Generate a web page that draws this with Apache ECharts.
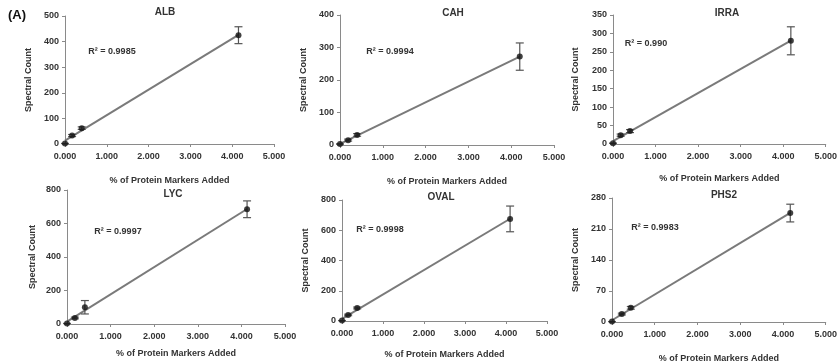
<!DOCTYPE html>
<html><head><meta charset="utf-8">
<script src="https://cdn.jsdelivr.net/npm/echarts@6/dist/echarts.min.js"></script>
<style>html,body{margin:0;padding:0;background:#fff}#c{width:840px;height:364px}</style>
</head><body><div id="c"></div>
<script>
// ---- data ----
const proteins = ['ALB', 'CAH', 'IRRA', 'LYC', 'OVAL', 'PHS2'];
const r2Values = ['0.9985', '0.9994', '0.990', '0.9997', '0.9998', '0.9983'];
const xTicks = [0, 1, 2, 3, 4, 5];
const yMax = [500, 400, 350, 800, 800, 280];
const yStep = [100, 100, 50, 200, 200, 70];

const albX = [0, 0.17, 0.40, 4.15];
const albY = [2, 33, 62, 425];
const albErr = [0, 4, 5, 33];

const cahX = [0, 0.19, 0.40, 4.20];
const cahY = [3, 15, 31, 272];
const cahErr = [0, 3, 4, 42];

const irraX = [0, 0.18, 0.40, 4.18];
const irraY = [2, 24, 35, 280];
const irraErr = [0, 3, 4, 38];

const lycX = [0, 0.18, 0.41, 4.13];
const lycY = [3, 36, 100, 685];
const lycErr = [0, 5, 40, 50];

const ovalX = [0, 0.15, 0.37, 4.10];
const ovalY = [3, 40, 86, 675];
const ovalErr = [0, 5, 6, 85];

const phs2X = [0, 0.23, 0.44, 4.17];
const phs2Y = [1, 18, 32, 246];
const phs2Err = [0, 2, 3, 20];

const panelsX = [albX, cahX, irraX, lycX, ovalX, phs2X];
const panelsY = [albY, cahY, irraY, lycY, ovalY, phs2Y];
const panelsErr = [albErr, cahErr, irraErr, lycErr, ovalErr, phs2Err];

// ---- layout ----
const grids = [
  {left: 65, top: 16, width: 209, height: 128},
  {left: 340, top: 15, width: 214, height: 130},
  {left: 613, top: 15, width: 214, height: 129},
  {left: 67, top: 190, width: 218, height: 134},
  {left: 342, top: 200, width: 205, height: 121},
  {left: 612, top: 198, width: 216, height: 124}
];
const titlePos = [[165, 12], [453, 13], [727, 13], [173, 194], [441, 197], [724, 195]];
const r2Pos = [[112, 52], [390, 52], [646, 44], [118, 232], [380, 230], [655, 228]];
const xNameGap = [32, 32, 30, 25, 29, 32];
const yNameGap = [32, 32, 33, 30, 32, 32];
const FONT = 'Liberation Sans, Arial, sans-serif';
const TXT = '#333';

function fit(xs, ys) {
  const n = xs.length;
  let sx = 0, sy = 0, sxx = 0, sxy = 0;
  for (let i = 0; i < n; i++) { sx += xs[i]; sy += ys[i]; sxx += xs[i] * xs[i]; sxy += xs[i] * ys[i]; }
  const b = (n * sxy - sx * sy) / (n * sxx - sx * sx);
  const a = (sy - b * sx) / n;
  const x0 = Math.min(...xs), x1 = Math.max(...xs);
  return [[x0, Math.max(0, a + b * x0)], [x1, a + b * x1]];
}

const option = {
  backgroundColor: '#fff',
  animation: false,
  grid: grids.map(g => Object.assign({containLabel: false}, g)),
  xAxis: grids.map((g, i) => ({
    gridIndex: i, type: 'value', min: xTicks[0], max: xTicks[xTicks.length - 1], interval: 1,
    name: '% of Protein Markers Added', nameLocation: 'middle', nameGap: xNameGap[i],
    nameTextStyle: {fontFamily: FONT, fontSize: 9, fontWeight: 'bold', color: TXT},
    axisLine: {lineStyle: {color: '#8a8a8a', width: 1}},
    axisTick: {show: true, length: 3, inside: false, lineStyle: {color: '#8a8a8a'}},
    axisLabel: {fontFamily: FONT, fontSize: 9, fontWeight: 'bold', color: TXT, margin: 8,
      formatter: v => v.toFixed(3)},
    splitLine: {show: false}
  })),
  yAxis: grids.map((g, i) => ({
    gridIndex: i, type: 'value', min: 0, max: yMax[i], interval: yStep[i],
    name: 'Spectral Count', nameLocation: 'middle', nameGap: yNameGap[i],
    nameTextStyle: {fontFamily: FONT, fontSize: 9, fontWeight: 'bold', color: TXT},
    axisLine: {show: true, lineStyle: {color: '#8a8a8a', width: 1}},
    axisTick: {show: true, length: 3, lineStyle: {color: '#8a8a8a'}},
    axisLabel: {fontFamily: FONT, fontSize: 9, fontWeight: 'bold', color: TXT, margin: 6},
    splitLine: {show: false}
  })),
  graphic: [],
  series: []
};

option.graphic.push({type: 'text', left: 8, top: 9,
  style: {text: '(A)', font: 'bold 13px ' + FONT, fill: '#111'}});

proteins.forEach((p, i) => {
  option.graphic.push({type: 'text', x: titlePos[i][0], y: titlePos[i][1],
    style: {text: p, font: 'bold 10px ' + FONT, fill: TXT, align: 'center', verticalAlign: 'middle'}});
  option.graphic.push({type: 'text', x: r2Pos[i][0], y: r2Pos[i][1],
    style: {text: 'R\u00B2 = ' + r2Values[i], font: 'bold 9px ' + FONT, fill: TXT, align: 'center', verticalAlign: 'middle'}});

  const xs = panelsX[i], ys = panelsY[i], es = panelsErr[i];
  option.series.push({
    type: 'line', xAxisIndex: i, yAxisIndex: i, data: fit(xs, ys), symbol: 'none',
    lineStyle: {color: '#7a7a7a', width: 2}, z: 2
  });
  option.series.push({
    type: 'custom', xAxisIndex: i, yAxisIndex: i,
    data: xs.map((x, k) => [x, ys[k] - es[k], ys[k] + es[k]]),
    renderItem: (params, api) => {
      const lo = api.coord([api.value(0), api.value(1)]);
      const hi = api.coord([api.value(0), api.value(2)]);
      const w = 4;
      const st = {stroke: '#555', lineWidth: 1.2};
      return {type: 'group', children: [
        {type: 'line', shape: {x1: lo[0], y1: lo[1], x2: hi[0], y2: hi[1]}, style: st},
        {type: 'line', shape: {x1: lo[0] - w, y1: lo[1], x2: lo[0] + w, y2: lo[1]}, style: st},
        {type: 'line', shape: {x1: hi[0] - w, y1: hi[1], x2: hi[0] + w, y2: hi[1]}, style: st}
      ]};
    },
    z: 3
  });
  option.series.push({
    type: 'scatter', xAxisIndex: i, yAxisIndex: i,
    data: xs.map((x, k) => [x, ys[k]]), symbol: 'circle', symbolSize: 6,
    itemStyle: {color: '#111'}, z: 4
  });
});

const chart = echarts.init(document.getElementById('c'), null, {renderer: 'canvas'});
chart.setOption(option);
</script></body></html>
